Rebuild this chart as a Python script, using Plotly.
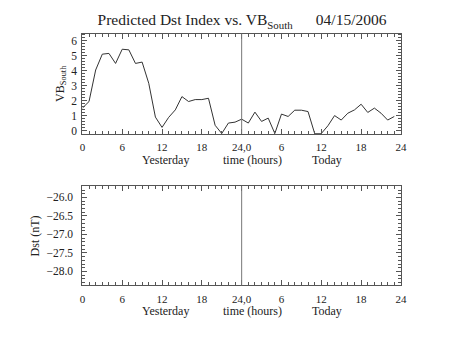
import plotly.graph_objects as go

# Hourly southward IMF (VBs) over yesterday (0-23) and today (24-47)
hours = list(range(48))
vb_south = [1.5, 1.94, 4.05, 5.11, 5.16, 4.49, 5.44, 5.40, 4.49, 4.58,
             3.16, 0.90, 0.21, 0.88, 1.38, 2.27, 1.94, 2.07, 2.07, 2.16,
             0.35, -0.2, 0.50, 0.56, 0.76, 0.50, 1.23, 0.61, 0.83, -0.2,
             1.10, 0.94, 1.36, 1.36, 1.27, -0.2, -0.2, 0.32, 1.00, 0.70,
             1.16, 1.38, 1.76, 1.21, 1.50, 1.16, 0.70, 0.94]

# Predicted Dst (no values available yet)
dst_hours = []
dst_values = []

x_tickvals = [0, 6, 12, 18, 24, 30, 36, 42, 48]
x_ticktext = ["0", "6", "12", "18", "24,0", "6", "12", "18", "24"]
day_change = 24

vb_range = [-0.22, 6.48]
dst_range = [-28.38, -25.70]

FONT = "Liberation Serif"
AX = "#555555"
TXT = "#222222"

fig = go.Figure()
fig.add_trace(go.Scatter(x=hours, y=vb_south, mode="lines",
                         line=dict(color="#333333", width=1),
                         xaxis="x", yaxis="y", showlegend=False))
fig.add_trace(go.Scatter(x=dst_hours, y=dst_values, mode="lines",
                         line=dict(color="#333333", width=1),
                         xaxis="x2", yaxis="y2", showlegend=False))

xdom = [81 / 453, 406 / 453]
common_x = dict(range=[0, 48], tickvals=x_tickvals, ticktext=x_ticktext,
                ticks="inside", ticklen=5, tickcolor=AX, showline=True,
                linecolor=AX, linewidth=1, mirror="allticks", showgrid=False,
                zeroline=False, domain=xdom, ticklabelstandoff=3,
                tickfont=dict(family=FONT, size=11, color=TXT),
                minor=dict(dtick=1, tick0=0, ticks="inside", ticklen=3,
                           tickcolor=AX, showgrid=False))
common_y = dict(ticks="inside", ticklen=5, tickcolor=AX, showline=True,
                linecolor=AX, linewidth=1, mirror="allticks", showgrid=False,
                zeroline=False,
                tickfont=dict(family=FONT, size=11.5, color=TXT))

fig.update_layout(
    width=453, height=340,
    margin=dict(l=0, r=0, t=0, b=0),
    paper_bgcolor="white", plot_bgcolor="white",
    font=dict(family=FONT, color=TXT),
    xaxis=dict(**common_x, anchor="y"),
    yaxis=dict(**common_y, range=vb_range, tickvals=[0, 1, 2, 3, 4, 5, 6],
               domain=[(340 - 135) / 340, (340 - 34) / 340], anchor="x",
               ticklabelstandoff=2,
               minor=dict(dtick=0.2, tick0=0, ticks="inside", ticklen=3,
                          tickcolor=AX, showgrid=False),
               title=dict(text="VB<sub>South</sub>", standoff=4,
                          font=dict(family=FONT, size=12))),
    xaxis2=dict(**common_x, anchor="y2"),
    yaxis2=dict(**common_y, range=dst_range,
                tickvals=[-28.0, -27.5, -27.0, -26.5, -26.0],
                tickformat=".1f", ticklabelstandoff=6,
                domain=[(340 - 288) / 340, (340 - 188) / 340], anchor="x2",
                minor=dict(dtick=0.1, tick0=0, ticks="inside", ticklen=3,
                           tickcolor=AX, showgrid=False),
                title=dict(text="Dst (nT)", standoff=4,
                           font=dict(family=FONT, size=12))),
    title=dict(text="Predicted Dst Index vs. VB<sub>South</sub>      04/15/2006",
               x=242 / 453, xanchor="center", y=1 - 20 / 340, yanchor="middle",
               font=dict(family=FONT, size=15.5, color=TXT)),
)

# Day boundary marker in both panels
for xr, yr in (("x", "y domain"), ("x2", "y2 domain")):
    fig.add_shape(type="line", xref=xr, yref=yr, x0=day_change, x1=day_change,
                  y0=0, y1=1, line=dict(color="#777777", width=1))

# Sub-labels beneath each time axis
for ytop in (153, 306):
    for xpos, txt in ((12.5, "Yesterday"), (25.7, "time (hours)"), (36.8, "Today")):
        fig.add_annotation(x=xpos, xref="x", y=1 - ytop / 340, yref="paper",
                           text=txt, showarrow=False, xanchor="center",
                           yanchor="top", borderpad=0,
                           font=dict(family=FONT, size=12, color=TXT))

fig.write_html("out.html")
